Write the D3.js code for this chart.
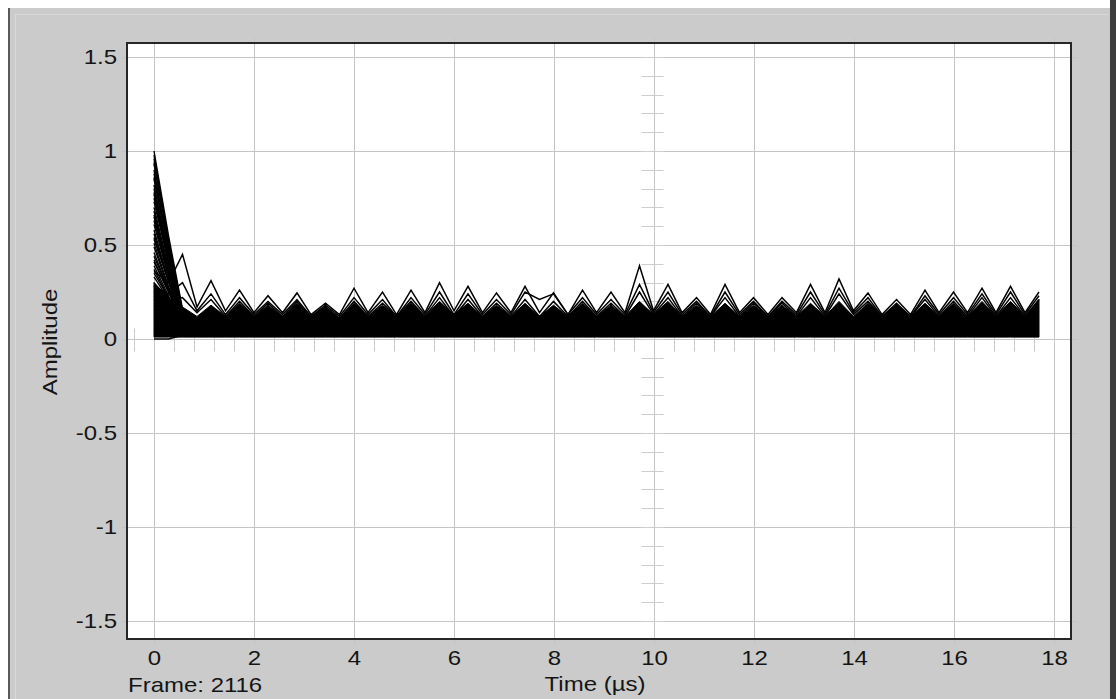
<!DOCTYPE html>
<html>
<head>
<meta charset="utf-8">
<script src="https://cdn.jsdelivr.net/npm/d3@7"></script>
<style>
body { margin: 0; background: #fff; }
svg { display: block; }
</style>
</head>
<body>
<svg class="scope"></svg>
<script>
// sample instants of every trace (µs)
var times = [0, 0.29, 0.57, 0.86, 1.14, 1.43, 1.71, 2.00, 2.28, 2.57,
    2.86, 3.14, 3.43, 3.71, 4.00, 4.28, 4.57, 4.85, 5.14, 5.42,
    5.71, 6.00, 6.28, 6.57, 6.85, 7.14, 7.42, 7.71, 7.99, 8.28,
    8.57, 8.85, 9.14, 9.42, 9.71, 9.99, 10.28, 10.56, 10.85, 11.13,
    11.42, 11.71, 11.99, 12.28, 12.56, 12.85, 13.13, 13.42, 13.70, 13.99,
    14.28, 14.56, 14.85, 15.13, 15.42, 15.70, 15.99, 16.27, 16.56, 16.84,
    17.13, 17.42, 17.70];

// outer traces standing above the dense bundle
var traceA = [0.36, 0.30, 0.45, 0.17, 0.31, 0.15, 0.26, 0.14, 0.23, 0.14,
    0.245, 0.13, 0.19, 0.13, 0.27, 0.14, 0.25, 0.13, 0.26, 0.14,
    0.30, 0.15, 0.28, 0.14, 0.245, 0.14, 0.28, 0.14, 0.245, 0.13,
    0.26, 0.14, 0.25, 0.14, 0.39, 0.15, 0.29, 0.14, 0.22, 0.13,
    0.29, 0.14, 0.22, 0.13, 0.22, 0.14, 0.29, 0.14, 0.32, 0.15,
    0.245, 0.13, 0.21, 0.13, 0.26, 0.14, 0.25, 0.14, 0.27, 0.14,
    0.28, 0.14, 0.25];
var traceB = [0.28, 0.24, 0.30, 0.15, 0.24, 0.13, 0.22, 0.13, 0.20, 0.13,
    0.21, 0.12, 0.18, 0.12, 0.22, 0.13, 0.21, 0.12, 0.22, 0.13,
    0.25, 0.13, 0.24, 0.13, 0.21, 0.13, 0.25, 0.21, 0.24, 0.13,
    0.22, 0.13, 0.21, 0.13, 0.29, 0.14, 0.25, 0.13, 0.20, 0.12,
    0.25, 0.13, 0.20, 0.12, 0.20, 0.13, 0.25, 0.13, 0.27, 0.14,
    0.22, 0.12, 0.19, 0.12, 0.23, 0.13, 0.22, 0.13, 0.24, 0.13,
    0.25, 0.13, 0.23];
var traceC = [0.22, 0.20, 0.22, 0.14, 0.21, 0.12, 0.20, 0.12, 0.19, 0.12,
    0.20, 0.12, 0.17, 0.11, 0.20, 0.12, 0.19, 0.12, 0.20, 0.12,
    0.22, 0.12, 0.21, 0.12, 0.19, 0.12, 0.21, 0.12, 0.20, 0.12,
    0.20, 0.12, 0.19, 0.12, 0.25, 0.13, 0.22, 0.12, 0.19, 0.12,
    0.22, 0.12, 0.19, 0.12, 0.19, 0.12, 0.22, 0.12, 0.24, 0.13,
    0.20, 0.12, 0.18, 0.12, 0.21, 0.12, 0.20, 0.12, 0.22, 0.12,
    0.22, 0.12, 0.21];

// top of the solid bundle of overlapping frames
var massTop = [0.30, 0.22, 0.17, 0.12, 0.18, 0.12, 0.19, 0.12, 0.18, 0.12,
    0.19, 0.12, 0.17, 0.11, 0.19, 0.12, 0.18, 0.12, 0.19, 0.12,
    0.20, 0.13, 0.19, 0.12, 0.18, 0.12, 0.19, 0.12, 0.18, 0.12,
    0.19, 0.12, 0.18, 0.12, 0.20, 0.13, 0.20, 0.12, 0.18, 0.12,
    0.19, 0.12, 0.18, 0.12, 0.18, 0.12, 0.19, 0.12, 0.20, 0.12,
    0.19, 0.12, 0.18, 0.12, 0.19, 0.12, 0.19, 0.12, 0.20, 0.12,
    0.20, 0.12, 0.21];
var massFloor = 0.01;

// first three samples of the decaying traces
var fanStart = [1.00, 0.98, 0.96, 0.94, 0.93, 0.90, 0.88, 0.86, 0.85, 0.82, 0.80, 0.78, 0.77, 0.75,
    0.73, 0.70, 0.68, 0.66, 0.65, 0.63, 0.61, 0.58, 0.56, 0.54, 0.53, 0.51, 0.49, 0.46, 0.44, 0.42,
    0.41, 0.39, 0.37, 0.35, 0.33, 0.30, 0.28, 0.26, 0.25, 0.23, 0.21, 0.18, 0.16, 0.14, 0.13,
    0.11, 0.09, 0.07, 0.05, 0.03, 0.02, 0.00];
var fanMid = [0.55, 0.52, 0.50, 0.51, 0.52, 0.48, 0.46, 0.47, 0.47, 0.44, 0.42, 0.43, 0.40, 0.41,
    0.41, 0.38, 0.36, 0.37, 0.35, 0.34, 0.33, 0.31, 0.30, 0.31, 0.31, 0.28, 0.27, 0.26, 0.26, 0.25,
    0.25, 0.23, 0.22, 0.22, 0.21, 0.20, 0.19, 0.18, 0.17, 0.17, 0.16, 0.14, 0.13, 0.12, 0.11,
    0.10, 0.09, 0.07, 0.06, 0.05, 0.04, 0.00];
var fanEnd = [0.16, 0.15, 0.14, 0.15, 0.15, 0.13, 0.14, 0.12, 0.12, 0.13, 0.14, 0.12, 0.11, 0.12,
    0.13, 0.11, 0.12, 0.10, 0.10, 0.11, 0.11, 0.10, 0.12, 0.09, 0.09, 0.10, 0.10, 0.08, 0.08, 0.09,
    0.11, 0.08, 0.09, 0.07, 0.07, 0.08, 0.08, 0.06, 0.06, 0.07, 0.07, 0.05, 0.05, 0.06, 0.06,
    0.04, 0.04, 0.05, 0.05, 0.03, 0.03, 0.02];

var xTicks = [0, 2, 4, 6, 8, 10, 12, 14, 16, 18];
var xTickLabels = ["0", "2", "4", "6", "8", "10", "12", "14", "16", "18"];
var yTicks = [-1.5, -1, -0.5, 0, 0.5, 1, 1.5];
var yTickLabels = ["-1.5", "-1", "-0.5", "0", "0.5", "1", "1.5"];
var centreTime = 10;
var frameLabel = "Frame: 2116";

var svgWidth = 1116, svgHeight = 699;
var plotLeft = 127, plotTop = 43, plotRight = 1071, plotBottom = 639;
var font = "'Liberation Sans', Arial, sans-serif";
var stretch = 1.2;

var svg = d3.select('svg.scope')
    .attr("width", svgWidth)
    .attr("height", svgHeight);

// window frame
svg.append("rect").attr("width", svgWidth).attr("height", svgHeight).attr("fill", "#fff");
svg.append("rect").attr("x", 8).attr("y", 8).attr("width", 1102).attr("height", 691).attr("fill", "#cbcbcb");
svg.append("line").attr("x1", 9).attr("x2", 9).attr("y1", 8).attr("y2", 699).attr("stroke", "#5a5a5a").attr("stroke-width", 2);
svg.append("line").attr("x1", 15).attr("x2", 1108).attr("y1", 14.5).attr("y2", 14.5).attr("stroke", "#d8d8d8");
svg.append("line").attr("x1", 15.5).attr("x2", 15.5).attr("y1", 14).attr("y2", 699).attr("stroke", "#d8d8d8");
svg.append("rect").attr("x", 1110).attr("y", 0).attr("width", 6).attr("height", svgHeight).attr("fill", "#3c3c3c");

var xScale = d3.scaleLinear().domain([0, 18]).range([154, 1054]),
    yScale = d3.scaleLinear().domain([-1.5, 1.5]).range([621, 57]);

// plot area
svg.append("rect")
    .attr("x", plotLeft).attr("y", plotTop)
    .attr("width", plotRight - plotLeft).attr("height", plotBottom - plotTop)
    .attr("fill", "#fff");

var grid = svg.append("g").attr("stroke", "#c4c4c4").attr("stroke-width", 1);
grid.selectAll(".vgrid")
    .data(xTicks)
    .enter()
    .append("line")
    .attr("x1", function (d) { return Math.round(xScale(d)) + 0.5; })
    .attr("x2", function (d) { return Math.round(xScale(d)) + 0.5; })
    .attr("y1", plotTop - 5)
    .attr("y2", plotBottom + 6);
grid.selectAll(".hgrid")
    .data(yTicks)
    .enter()
    .append("line")
    .attr("y1", function (d) { return Math.round(yScale(d)) + 0.5; })
    .attr("y2", function (d) { return Math.round(yScale(d)) + 0.5; })
    .attr("x1", plotLeft - 5)
    .attr("x2", plotRight + 6);

// centre crosshair ticks
var cx = Math.round(xScale(centreTime)) + 0.5;
grid.selectAll(".vtick")
    .data(d3.range(-15, 16).map(function (d) { return d / 10; }))
    .enter()
    .append("line")
    .attr("x1", cx - 13)
    .attr("x2", cx + 9)
    .attr("y1", function (d) { return Math.round(yScale(d)) + 0.5; })
    .attr("y2", function (d) { return Math.round(yScale(d)) + 0.5; })
    .attr("stroke", "#cdcdcd");
var cy = Math.round(yScale(0)) + 0.5;
grid.selectAll(".htick")
    .data(d3.range(-1, 46).map(function (d) { return d * 0.4; }))
    .enter()
    .append("line")
    .attr("x1", function (d) { return Math.round(xScale(d)) + 0.5; })
    .attr("x2", function (d) { return Math.round(xScale(d)) + 0.5; })
    .attr("y1", cy - 11)
    .attr("y2", cy + 12)
    .attr("stroke", "#c8c8c8");

// data
var line = d3.line()
    .x(function (d, i) { return xScale(times[i]); })
    .y(function (d) { return yScale(d); });

var area = d3.area()
    .x(function (d, i) { return xScale(times[i]); })
    .y0(yScale(massFloor))
    .y1(function (d) { return yScale(d); });

var traces = svg.append("g").attr("fill", "none").attr("stroke", "#000");

traces.append("path")
    .datum(massTop)
    .attr("d", area)
    .attr("fill", "#000")
    .attr("stroke", "#000")
    .attr("stroke-width", 1);

traces.selectAll(".fan")
    .data(fanStart.map(function (v, i) { return [v, fanMid[i], fanEnd[i]]; }))
    .enter()
    .append("path")
    .attr("d", line)
    .attr("stroke-width", 1.4);

traces.selectAll(".trace")
    .data([traceC, traceB, traceA])
    .enter()
    .append("path")
    .attr("d", line)
    .attr("stroke-width", 1.5);

// plot border
svg.append("rect")
    .attr("x", plotLeft).attr("y", plotTop)
    .attr("width", plotRight - plotLeft).attr("height", plotBottom - plotTop)
    .attr("fill", "none")
    .attr("stroke", "#262626")
    .attr("stroke-width", 2);

// axes (labels only)
var xAxis = svg.append("g")
    .attr("transform", "translate(0," + plotBottom + ")")
    .call(d3.axisBottom(xScale).tickValues(xTicks).tickSize(0).tickPadding(12)
        .tickFormat(function (d, i) { return xTickLabels[i]; }));
var yAxis = svg.append("g")
    .attr("transform", "translate(" + plotLeft + ",0)")
    .call(d3.axisLeft(yScale).tickValues(yTicks).tickSize(0).tickPadding(10 / stretch)
        .tickFormat(function (d, i) { return yTickLabels[i]; }));

[xAxis, yAxis].forEach(function (ax) {
    ax.select(".domain").remove();
    ax.selectAll("text")
        .attr("transform", "scale(" + stretch + ",1)")
        .style("font-family", font)
        .style("font-size", "20px")
        .attr("fill", "#151515");
});

function label(x, y, anchor, txt, tf) {
    svg.append("g")
        .attr("transform", "translate(" + x + "," + y + ")" + (tf || ""))
        .append("text")
        .attr("transform", "scale(" + stretch + ",1)")
        .attr("text-anchor", anchor)
        .style("font-family", font)
        .style("font-size", "20px")
        .attr("fill", "#151515")
        .text(txt);
}

label(128, 692, "start", frameLabel);
label(595, 691, "middle", "Time (\u00b5s)");
label(57, 342, "middle", "Amplitude", " rotate(-90)");
</script>
</body>
</html>
